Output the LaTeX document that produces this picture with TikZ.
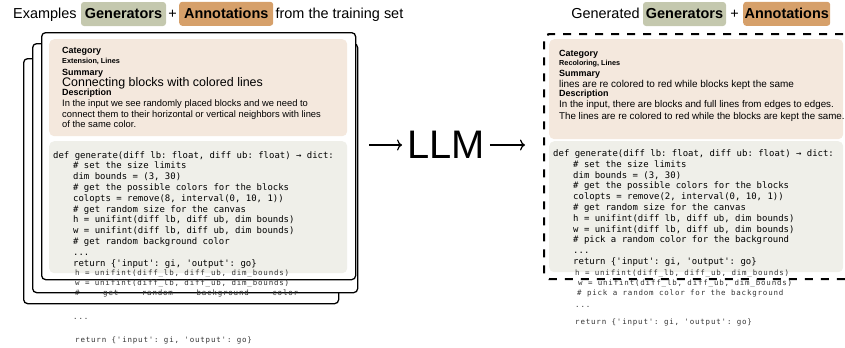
\documentclass[tikz,border=0pt]{standalone}
\usepackage{fontspec}
\setmainfont{Liberation Sans}
\setmonofont{DejaVu Sans Mono}
\usetikzlibrary{arrows.meta,positioning}

\definecolor{gencol}{RGB}{196,200,174}
\definecolor{anncol}{RGB}{214,160,106}
\definecolor{notecol}{RGB}{244,232,221}
\definecolor{codecol}{RGB}{239,239,233}

\begin{document}
\begin{tikzpicture}[x=1bp,y=-1bp,
    title/.style={inner sep=0pt,font=\fontsize{14.5}{14.5}\selectfont},
    badge/.style={rounded corners=3bp,inner sep=0pt,minimum height=24bp,
      font=\fontsize{14.5}{14.5}\selectfont\bfseries},
    card/.style={draw,fill=white,line width=1.3bp,rounded corners=4bp,
      inner sep=0pt,anchor=north west},
    panel/.style={rounded corners=5bp,inner sep=0pt,anchor=north west},
    head/.style={anchor=base west,inner sep=0pt,
      font=\fontsize{9}{9}\selectfont\bfseries},
    tagline/.style={anchor=base west,inner sep=0pt,
      font=\fontsize{7.3}{7.3}\selectfont\bfseries},
    body/.style={anchor=base west,inner sep=0pt,font=\fontsize{#1}{#1}\selectfont},
    code/.style={anchor=base west,inner sep=0pt,
      font=\fontsize{9}{9}\ttfamily},
    spill/.style={anchor=base west,inner sep=0pt,text=black!80,
      font=\fontsize{7.5}{7.5}\ttfamily\addfontfeature{LetterSpace=11}},
    arr/.style={line width=1.2bp,-{To[length=5bp,width=11bp]}}]
  \useasboundingbox (0,0) rectangle (845,347);

  % titles
  \node[badge,fill=gencol,minimum width=85bp] (lgen) at (123.5,14) {Generators};
  \node[title,base left=4bp of lgen] (lex) {Examples};
  \node[title,base right=2bp of lgen] (lplus) {+};
  \node[badge,fill=anncol,minimum width=94bp,base right=2bp of lplus] (lann) {Annotations};
  \node[title,base right=2bp of lann] (lfrom) {from the training set};

  \node[badge,fill=gencol,minimum width=83bp] (rgen) at (684.5,14) {Generators};
  \node[title,base left=3bp of rgen] (rgtd) {Generated};
  \node[title,base right=4bp of rgen] (rplus) {+};
  \node[badge,fill=anncol,minimum width=87bp,base right=4bp of rplus] (rann) {Annotations};

  % stack of examples
  \node[card,minimum width=315bp,minimum height=245bp] (card3) at (23,58) {};
  \node[card,minimum width=325bp,minimum height=249bp] (card2) at (32,43) {};
  \node[card,minimum width=314bp,minimum height=247bp] (card1) at (41,32) {};
  \node[panel,fill=notecol,minimum width=298bp,minimum height=97bp] (lnote) at (49,39) {};
  \node[panel,fill=codecol,minimum width=298bp,minimum height=132bp] (lcode) at (49,141) {};

  \node[head] (lh1) at (62,53) {Category};
  \node[tagline] (lv1) at (62,63.5) {Extension, Lines};
  \node[head] (lh2) at (62,75) {Summary};
  \node[body=12.5] (lv2) at (62,86) {Connecting blocks with colored lines};
  \node[head] (lh3) at (62,95.5) {Description};
  \node[body=9.4] (lv3) at (62,106.5) {In the input we see randomly placed blocks and we need to};
  \node[body=9.4] (lv4) at (62,117) {connect them to their horizontal or vertical neighbors with lines};
  \node[body=9.4] (lv5) at (62,127.5) {of the same color.};

  \foreach \x/\t [count=\i] in {
      53/{def generate(diff lb: float, diff ub: float) → dict:},
      73/{\# set the size limits},
      73/{dim bounds = (3, 30)},
      73/{\# get the possible colors for the blocks},
      73/{colopts = remove(8, interval(0, 10, 1))},
      73/{\# get random size for the canvas},
      73/{h = unifint(diff lb, diff ub, dim bounds)},
      73/{w = unifint(diff lb, diff ub, dim bounds)},
      73/{\# get random background color},
      73/{...},
      73/{return \{'input': gi, 'output': go\}}}
    \node[code] (lc\i) at (\x,147.2+10.8*\i) {\t};

  \node[spill] (ls1) at (75,275.5) {h = unifint(diff\_lb, diff\_ub, dim\_bounds)};
  \node[spill] (ls2) at (75,285.5) {w = unifint(diff\_lb, diff\_ub, dim\_bounds)};
  \node[spill,text width=223bp,align=left] (ls3) at (75,295.5)
    {\#\hfill get\hfill random\hfill background\hfill color};
  \node[spill] (ls4) at (73,319) {...};
  \node[spill] (ls5) at (75,342.5) {return \{'input': gi, 'output': go\}};

  % model
  \node[inner xsep=5bp,inner ysep=0pt,font=\fontsize{40}{40}\selectfont] (llm) at (446,145) {LLM};
  \coordinate (lin) at (369,145);
  \coordinate (lout) at (525,145);
  \draw[arr] (lin) -- (llm.west);
  \draw[arr] (llm.east) -- (lout);

  % generated sample
  \node[card,fill=none,line width=2.2bp,dash pattern=on 8bp off 8bp,rounded corners=5bp,
    minimum width=320bp,minimum height=245bp] (frame) at (543,33) {};
  \node[panel,fill=notecol,minimum width=294bp,minimum height=100bp] (rnote) at (549,39) {};
  \node[panel,fill=codecol,minimum width=294bp,minimum height=131bp] (rcode) at (549,141) {};

  \node[head] (rh1) at (559,56) {Category};
  \node[tagline] (rv1) at (559,65.5) {Recoloring, Lines};
  \node[head] (rh2) at (559,76) {Summary};
  \node[body=10] (rv2) at (559,87) {lines are re colored to red while blocks kept the same};
  \node[head] (rh3) at (559,96.5) {Description};
  \node[body=9.8] (rv3) at (559,107.5) {In the input, there are blocks and full lines from edges to edges.};
  \node[body=9.8] (rv4) at (559,119) {The lines are re colored to red while the blocks are kept the same.};

  \foreach \x/\t [count=\i] in {
      553/{def generate(diff lb: float, diff ub: float) → dict:},
      573/{\# set the size limits},
      573/{dim bounds = (3, 30)},
      573/{\# get the possible colors for the blocks},
      573/{colopts = remove(2, interval(0, 10, 1))},
      573/{\# get random size for the canvas},
      573/{h = unifint(diff lb, diff ub, dim bounds)},
      573/{w = unifint(diff lb, diff ub, dim bounds)},
      573/{\# pick a random color for the background},
      573/{...},
      573/{return \{'input': gi, 'output': go\}}}
    \node[code] (rc\i) at (\x,145.7+10.8*\i) {\t};

  \node[spill] (rs1) at (575,275.5) {h = unifint(diff\_lb, diff\_ub, dim\_bounds)};
  \node[spill] (rs2) at (578,285.5) {w = unifint(diff\_lb, diff\_ub, dim\_bounds)};
  \node[spill] (rs3) at (577,295.5) {\# pick a random color for the background};
  \node[spill] (rs4) at (575,307.5) {...};
  \node[spill] (rs5) at (575,324.5) {return \{'input': gi, 'output': go\}};
\end{tikzpicture}
\end{document}
